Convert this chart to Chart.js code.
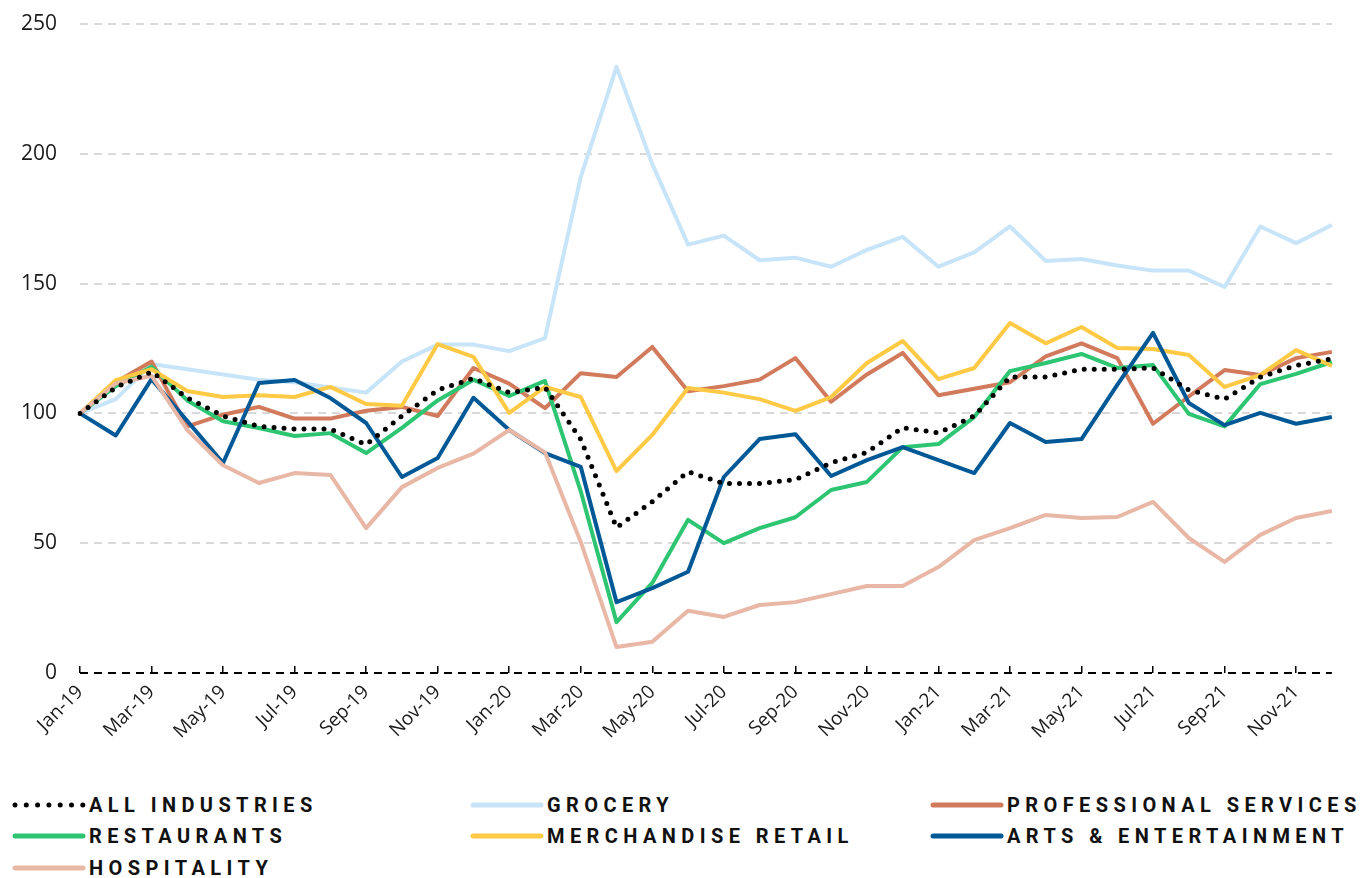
<!DOCTYPE html>
<html lang="en">
<head>
  <meta charset="UTF-8" />
  <title>Spending index by industry</title>
  <script src="https://cdn.jsdelivr.net/npm/chart.js@4.4.1/dist/chart.umd.min.js"></script>
  <style>
    body {
      margin: 0;
      background: #fff;
      font-family: 'Open Sans', sans-serif;
    }
    .wrap {
      position: relative;
      width: 1363px;
      height: 782px;
    }
    #legend {
      position: absolute;
      left: 12px;
      top: 789px;
      display: grid;
      grid-template-columns: 458px 460px 440px;
      row-gap: 0;
    }
    .item {
      display: flex;
      align-items: center;
      height: 31.5px;
      white-space: nowrap;
      font-family: Roboto, sans-serif;
      font-weight: 700;
      font-size: 20px;
      letter-spacing: 5.4px;
      color: #111;
    }
    .item svg { margin-right: 3px; flex: none; }
  </style>
</head>
<body>
  <div class="wrap"><canvas id="chart"></canvas></div>
  <div id="legend"></div>

<script>
  const months = ['Jan-19','Feb-19','Mar-19','Apr-19','May-19','Jun-19','Jul-19','Aug-19','Sep-19','Oct-19','Nov-19','Dec-19',
    'Jan-20','Feb-20','Mar-20','Apr-20','May-20','Jun-20','Jul-20','Aug-20','Sep-20','Oct-20','Nov-20','Dec-20',
    'Jan-21','Feb-21','Mar-21','Apr-21','May-21','Jun-21','Jul-21','Aug-21','Sep-21','Oct-21','Nov-21','Dec-21'];
  const yTicks = [0, 50, 100, 150, 200, 250];

  const allIndustries = [100, 110, 116, 106, 99, 95, 94, 94, 88, 99, 109, 113.5,
    108, 110, 90, 56, 66, 77.5, 73, 73, 74.5, 81, 85, 94.5,
    92.5, 99, 114, 114, 117, 117, 117.5, 109, 105.5, 114, 118.5, 121];
  const grocery = [100, 105.5, 119, 117, 115, 113, 112, 110, 108, 120, 126.5, 126.5,
    124, 129, 191, 233.5, 196, 165, 168.5, 159, 160, 156.5, 163, 168,
    156.5, 162, 172, 158.7, 159.5, 157, 155, 155, 148.7, 172, 165.6, 172.6];
  const professional = [100, 112, 120, 95, 99.5, 102.5, 98, 98, 101, 102.5, 99, 117.5,
    111.5, 102, 115.5, 114, 125.6, 108.5, 110.5, 113, 121.3, 104.5, 115, 123.3,
    107, 109.5, 112, 122, 127, 121.3, 96, 106.5, 116.7, 114.8, 121.3, 123.7];
  const restaurants = [100, 110.5, 118, 105, 97, 94.4, 91.3, 92.4, 84.7, 94.4, 105, 113,
    106.7, 112.5, 70, 19.6, 34.7, 59, 50, 55.8, 60, 70.5, 73.6, 87,
    88.2, 98.6, 116.3, 119.4, 122.9, 117.5, 118.6, 99.8, 95, 111.3, 115.2, 119.8];
  const merchandise = [100, 112.8, 117, 108.6, 106.3, 107, 106.3, 110.2, 103.6, 102.9, 126.7, 121.8,
    100.2, 110.2, 106.3, 77.8, 91.7, 109.8, 108, 105.5, 101, 106.3, 119.4, 127.9,
    113.2, 117.5, 134.8, 127, 133.3, 125.2, 124.8, 122.5, 110.2, 114.8, 124.4, 118.3];
  const arts = [100, 91.5, 113.2, null, 80.9, 111.7, 112.9, 105.9, 96.3, 75.5, 82.8, 106,
    93.6, 84.7, 79.4, 27.3, 32.7, 39, 75.5, 90.1, 92, 75.9, 82, 87,
    82, 77, 96.3, 89, 90.1, 111, 131, 104, 95.5, 100.2, 96, 98.6];
  const hospitality = [100, 111.5, 114.5, 93.6, 80, 73.2, 77, 76.3, 55.8, 71.6, 79, 84.5,
    93.6, 85, 50.5, 10, 12, 24, 21.6, 26.2, 27.3, 30.4, 33.5, 33.5,
    40.8, 51.2, 55.8, 60.9, 59.7, 60.1, 65.9, 52, 42.8, 53.2, 59.7, 62.4];

  function series(label, data, color, order, extra) {
    return Object.assign({
      label: label,
      data: data,
      borderColor: color,
      backgroundColor: color,
      borderWidth: 4,
      borderJoinStyle: 'round',
      pointRadius: 0,
      pointHoverRadius: 0,
      tension: 0,
      spanGaps: true,
      order: order
    }, extra || {});
  }

  const datasets = [
    series('ALL INDUSTRIES', allIndustries, '#000000', 0,
      { borderWidth: 5, borderDash: [0, 10], borderCapStyle: 'round' }),
    series('GROCERY', grocery, '#c8e4f8', 6),
    series('PROFESSIONAL SERVICES', professional, '#d27a5c', 5),
    series('RESTAURANTS', restaurants, '#2ec572', 4),
    series('MERCHANDISE RETAIL', merchandise, '#fec944', 3),
    series('ARTS & ENTERTAINMENT', arts, '#005996', 2, {
      segment: { borderWidth: c => (c.p1DataIndex - c.p0DataIndex > 1 ? 1.5 : undefined) }
    }),
    series('HOSPITALITY', hospitality, '#e8b7a6', 1)
  ];

  const chart = new Chart(document.getElementById('chart'), {
    type: 'line',
    data: { labels: months, datasets: datasets },
    options: {
      responsive: true,
      maintainAspectRatio: false,
      animation: false,
      layout: { padding: { top: 24, right: 27, left: 0, bottom: 0 } },
      plugins: {
        legend: { display: false },
        tooltip: { enabled: false }
      },
      scales: {
        x: {
          offset: false,
          afterFit: s => { s.height = 109; },
          border: { display: false },
          grid: {
            drawOnChartArea: false,
            drawTicks: true,
            tickLength: -7,
            lineWidth: 1.5,
            color: c => (c.index % 2 === 0 ? '#000' : 'rgba(0,0,0,0)')
          },
          ticks: {
            autoSkip: false,
            minRotation: 45,
            maxRotation: 45,
            padding: 15,
            color: '#1a1a1a',
            font: { family: 'Open Sans', size: 19 },
            callback: (v, i) => (i % 2 === 0 ? months[i] : '')
          }
        },
        y: {
          min: 0,
          max: 250,
          afterFit: s => { s.width = 80; s.paddingTop = 0; s.paddingBottom = 0; },
          afterBuildTicks: s => { s.ticks = yTicks.map(v => ({ value: v })); },
          border: { display: false, dash: [8, 6] },
          grid: {
            drawTicks: false,
            lineWidth: 2,
            color: c => (c.tick && c.tick.value === 0 ? '#000' : '#d9d9d9')
          },
          ticks: {
            padding: 23,
            color: '#1a1a1a',
            font: { family: 'Open Sans', size: 21 }
          }
        }
      }
    }
  });

  // html legend in three columns, built from the datasets
  const legend = document.getElementById('legend');
  chart.data.datasets.forEach(ds => {
    const item = document.createElement('div');
    item.className = 'item';
    const dash = ds.borderDash ? 'stroke-dasharray="0 11.3"' : '';
    item.innerHTML =
      '<svg width="74" height="10"><line x1="3" y1="5" x2="71" y2="5" stroke="' + ds.borderColor +
      '" stroke-width="5" stroke-linecap="round" ' + dash + '/></svg>';
    const span = document.createElement('span');
    span.textContent = ds.label;
    item.appendChild(span);
    legend.appendChild(item);
  });
</script>
</body>
</html>
